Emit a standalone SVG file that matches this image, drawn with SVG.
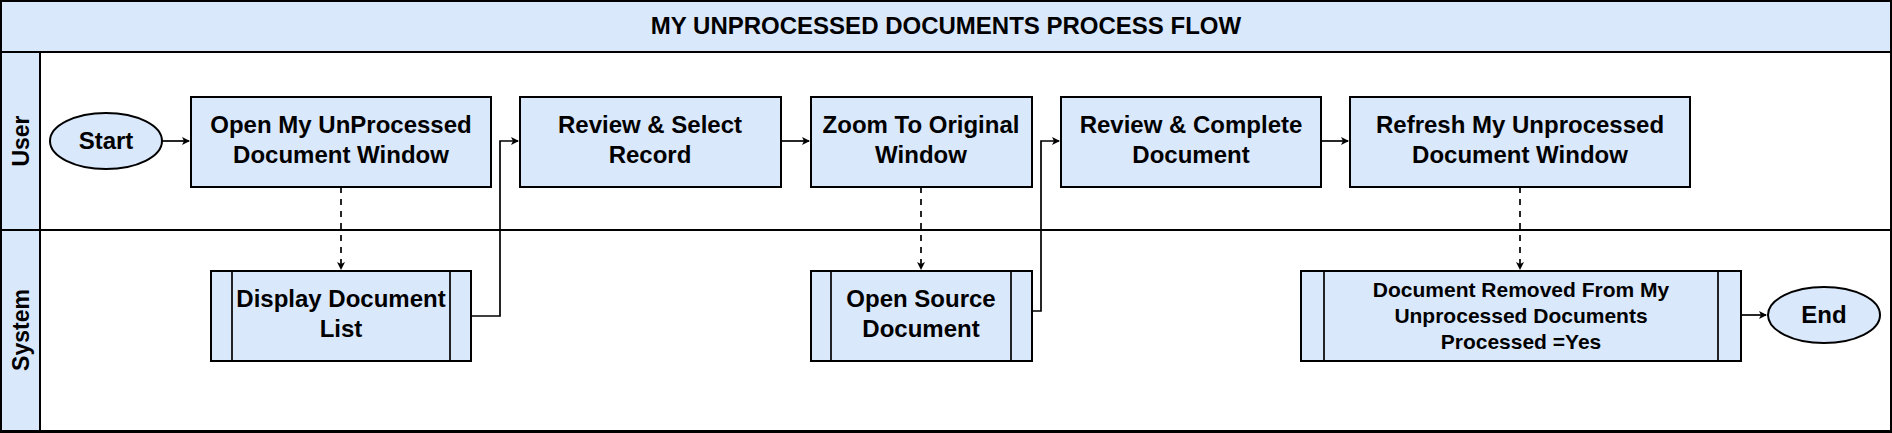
<svg xmlns="http://www.w3.org/2000/svg" width="1892" height="433" viewBox="0 0 1892 433">
<style>
.b{fill:#dae8fc;stroke:#000;stroke-width:2}
.t{font-family:"Liberation Sans",Arial,sans-serif;font-weight:bold;font-size:24px;text-anchor:middle;fill:#000}
.s{font-size:21px}
.l{font-size:23px}
.c{fill:none;stroke:#000;stroke-width:1.7}
.d{stroke-dasharray:6 6}
</style>
<defs><marker id="a" markerWidth="10" markerHeight="10" refX="8" refY="5" orient="auto" markerUnits="userSpaceOnUse"><path d="M1,1 L9,5 L1,9 L3,5 Z" fill="#000"/></marker></defs>
<rect x="1" y="1" width="1890" height="431" fill="#fff" stroke="#000" stroke-width="2"/>
<g id="title"><rect class="b" x="1" y="1" width="1890" height="51"/><text class="t" x="946" y="34">MY UNPROCESSED DOCUMENTS PROCESS FLOW</text></g>
<g id="laneUser"><rect class="b" x="1" y="52" width="39" height="178"/><rect x="40" y="52" width="1851" height="178" fill="#fff" stroke="#000" stroke-width="2"/><text class="t l" transform="translate(29,141) rotate(-90)">User</text></g>
<g id="laneSystem"><rect class="b" x="1" y="230" width="39" height="201"/><rect x="40" y="230" width="1851" height="201" fill="#fff" stroke="#000" stroke-width="2"/><text class="t l" transform="translate(29,330) rotate(-90)">System</text></g>
<g id="connectors">
<path class="c" d="M162,141 H189" marker-end="url(#a)"/>
<path class="c d" d="M341,187 V269" marker-end="url(#a)"/>
<path class="c" d="M471,316 H500 V141 H518" marker-end="url(#a)"/>
<path class="c" d="M781,141 H809" marker-end="url(#a)"/>
<path class="c d" d="M921,187 V269" marker-end="url(#a)"/>
<path class="c" d="M1032,311 H1041 V141 H1059" marker-end="url(#a)"/>
<path class="c" d="M1321,141 H1348" marker-end="url(#a)"/>
<path class="c d" d="M1520,187 V269" marker-end="url(#a)"/>
<path class="c" d="M1741,315 H1766" marker-end="url(#a)"/>
</g>
<g id="start"><ellipse class="b" cx="106" cy="141" rx="56" ry="28"/><text class="t" x="106" y="149">Start</text></g>
<g id="open"><rect class="b" x="191" y="97" width="300" height="90"/><text class="t" x="341" y="133">Open My UnProcessed</text><text class="t" x="341" y="163">Document Window</text></g>
<g id="review"><rect class="b" x="520" y="97" width="261" height="90"/><text class="t" x="650" y="133">Review &amp; Select</text><text class="t" x="650" y="163">Record</text></g>
<g id="zoom"><rect class="b" x="811" y="97" width="221" height="90"/><text class="t" x="921" y="133">Zoom To Original</text><text class="t" x="921" y="163">Window</text></g>
<g id="complete"><rect class="b" x="1061" y="97" width="260" height="90"/><text class="t" x="1191" y="133">Review &amp; Complete</text><text class="t" x="1191" y="163">Document</text></g>
<g id="refresh"><rect class="b" x="1350" y="97" width="340" height="90"/><text class="t" x="1520" y="133">Refresh My Unprocessed</text><text class="t" x="1520" y="163">Document Window</text></g>
<g id="display"><rect class="b" x="211" y="271" width="260" height="90"/><path class="c" d="M232,271 V361 M450,271 V361" stroke-width="2"/><text class="t" x="341" y="307">Display Document</text><text class="t" x="341" y="337">List</text></g>
<g id="source"><rect class="b" x="811" y="271" width="221" height="90"/><path class="c" d="M831,271 V361 M1011,271 V361" stroke-width="2"/><text class="t" x="921" y="307">Open Source</text><text class="t" x="921" y="337">Document</text></g>
<g id="removed"><rect class="b" x="1301" y="271" width="440" height="90"/><path class="c" d="M1324,271 V361 M1718,271 V361" stroke-width="2"/><text class="t s" x="1521" y="297">Document Removed From My</text><text class="t s" x="1521" y="323">Unprocessed Documents</text><text class="t s" x="1521" y="349">Processed =Yes</text></g>
<g id="end"><ellipse class="b" cx="1824" cy="315" rx="56" ry="28"/><text class="t" x="1824" y="323">End</text></g>
</svg>
